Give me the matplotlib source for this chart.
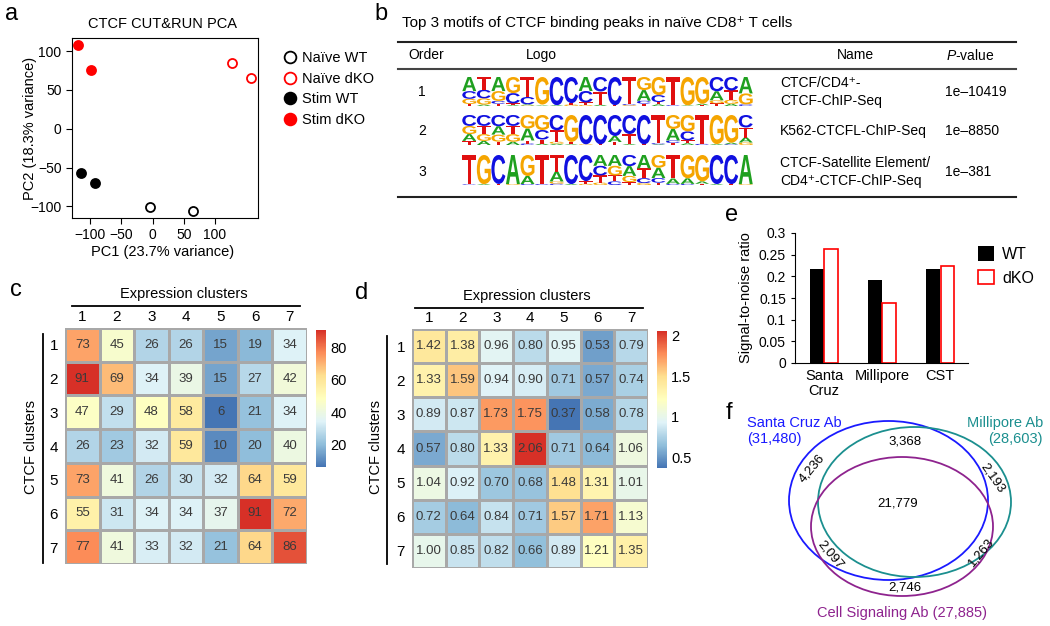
import matplotlib
matplotlib.use("Agg")
import matplotlib.pyplot as plt
import numpy as np
from matplotlib.colors import LinearSegmentedColormap
from matplotlib.patches import Ellipse, PathPatch, Patch
from matplotlib.lines import Line2D
from matplotlib.textpath import TextPath
from matplotlib.font_manager import FontProperties
from matplotlib.transforms import Affine2D

plt.rcParams['font.family'] = ['Liberation Sans', 'DejaVu Sans']
plt.rcParams['mathtext.fontset'] = 'custom'
plt.rcParams['mathtext.it'] = 'Liberation Sans:italic'
plt.rcParams['mathtext.rm'] = 'Liberation Sans'

# ---- data ----
# panel a: PCA
pca_groups = ["Naïve WT", "Naïve dKO", "Stim WT", "Stim dKO"]
pca_x = [[-3.5, 65], [128, 157], [-115, -92.5], [-120, -99]]
pca_y = [[-100.5, -106], [85, 66], [-56.5, -69.5], [108, 76]]
pca_color = ["black", "red", "black", "red"]
pca_filled = [False, False, True, True]

# panel b: motifs (relative base frequency per position)
motif1 = [
    {'A': 0.55, 'C': 0.30, 'G': 0.20, 'T': 0.08},
    {'T': 0.45, 'C': 0.30, 'G': 0.22, 'A': 0.05},
    {'A': 0.50, 'G': 0.35, 'C': 0.10, 'T': 0.08},
    {'G': 0.55, 'C': 0.35, 'T': 0.06, 'A': 0.03},
    {'T': 0.95, 'C': 0.35, 'A': 0.05, 'G': 0.03},
    {'G': 1.75, 'T': 0.05, 'A': 0.04},
    {'C': 1.75, 'A': 0.05},
    {'C': 1.45, 'G': 0.08, 'T': 0.08},
    {'A': 0.55, 'C': 0.45, 'T': 0.10, 'G': 0.04},
    {'C': 0.60, 'T': 0.55, 'A': 0.05},
    {'C': 1.70, 'T': 0.05},
    {'T': 1.60, 'C': 0.06, 'G': 0.05},
    {'G': 0.55, 'A': 0.45, 'C': 0.12, 'T': 0.10},
    {'G': 0.65, 'C': 0.25, 'T': 0.08, 'A': 0.06},
    {'T': 1.70, 'C': 0.05},
    {'G': 1.75, 'A': 0.04},
    {'G': 1.55, 'A': 0.08, 'T': 0.05},
    {'C': 0.55, 'A': 0.35, 'G': 0.12, 'T': 0.10},
    {'C': 0.50, 'T': 0.35, 'G': 0.15, 'A': 0.08},
    {'A': 0.60, 'G': 0.40, 'C': 0.06},
]
motif2 = [
    {'C': 0.40, 'G': 0.30, 'A': 0.25, 'T': 0.15},
    {'C': 0.40, 'T': 0.30, 'G': 0.25, 'A': 0.15},
    {'C': 0.40, 'A': 0.30, 'G': 0.25, 'T': 0.12},
    {'C': 0.40, 'T': 0.30, 'G': 0.28, 'A': 0.12},
    {'G': 0.45, 'A': 0.40, 'T': 0.10, 'C': 0.05},
    {'G': 0.55, 'C': 0.35, 'T': 0.15, 'A': 0.05},
    {'C': 0.60, 'T': 0.45, 'G': 0.08, 'A': 0.05},
    {'G': 1.40, 'T': 0.12, 'A': 0.04},
    {'C': 1.65, 'G': 0.04},
    {'C': 1.65, 'T': 0.04},
    {'C': 1.05, 'A': 0.30, 'T': 0.15},
    {'C': 0.95, 'T': 0.50, 'A': 0.05},
    {'C': 1.65, 'T': 0.04},
    {'T': 1.55, 'C': 0.06, 'A': 0.04},
    {'G': 0.55, 'A': 0.45, 'C': 0.10, 'T': 0.08},
    {'G': 0.55, 'C': 0.30, 'T': 0.10, 'A': 0.06},
    {'T': 1.55, 'C': 0.06},
    {'G': 1.60, 'A': 0.05},
    {'G': 1.45, 'A': 0.08, 'C': 0.04},
    {'C': 0.50, 'T': 0.40, 'A': 0.20, 'G': 0.10},
]
motif3 = [
    {'T': 1.75, 'C': 0.04},
    {'G': 1.65, 'A': 0.05},
    {'C': 1.60, 'T': 0.06},
    {'A': 1.55, 'G': 0.05},
    {'G': 1.05, 'A': 0.40, 'C': 0.05},
    {'T': 1.60, 'C': 0.05},
    {'T': 0.75, 'A': 0.45, 'G': 0.10, 'C': 0.06},
    {'C': 1.55, 'A': 0.05},
    {'C': 1.40, 'T': 0.15, 'G': 0.06},
    {'A': 0.45, 'C': 0.40, 'T': 0.30, 'G': 0.10},
    {'A': 0.45, 'G': 0.40, 'T': 0.25, 'C': 0.15},
    {'C': 0.45, 'A': 0.40, 'G': 0.25, 'T': 0.12},
    {'A': 0.55, 'T': 0.40, 'C': 0.20, 'G': 0.08},
    {'G': 0.55, 'A': 0.45, 'C': 0.20, 'T': 0.10},
    {'T': 1.30, 'A': 0.30, 'C': 0.06},
    {'G': 1.25, 'A': 0.30, 'C': 0.06},
    {'G': 1.30, 'A': 0.12, 'T': 0.06},
    {'C': 1.55, 'A': 0.05},
    {'C': 1.55, 'T': 0.05},
    {'A': 1.65, 'G': 0.05},
]
motifs = [motif1, motif2, motif3]
motif_order = ["1", "2", "3"]
motif_names = ["CTCF/CD4⁺-\nCTCF-ChIP-Seq", "K562-CTCFL-ChIP-Seq",
               "CTCF-Satellite Element/\nCD4⁺-CTCF-ChIP-Seq"]
motif_pvals = ["1e–10419", "1e–8850", "1e–381"]
base_colors = {'A': '#1fa01f', 'C': '#1010e0', 'G': '#f5a500', 'T': '#e01010'}

# panels c and d: heatmaps
clusters = ["1", "2", "3", "4", "5", "6", "7"]
c_vals = np.array([
    [73, 45, 26, 26, 15, 19, 34],
    [91, 69, 34, 39, 15, 27, 42],
    [47, 29, 48, 58, 6, 21, 34],
    [26, 23, 32, 59, 10, 20, 40],
    [73, 41, 26, 30, 32, 64, 59],
    [55, 31, 34, 34, 37, 91, 72],
    [77, 41, 33, 32, 21, 64, 86]])
d_vals = np.array([
    [1.42, 1.38, 0.96, 0.80, 0.95, 0.53, 0.79],
    [1.33, 1.59, 0.94, 0.90, 0.71, 0.57, 0.74],
    [0.89, 0.87, 1.73, 1.75, 0.37, 0.58, 0.78],
    [0.57, 0.80, 1.33, 2.06, 0.71, 0.64, 1.06],
    [1.04, 0.92, 0.70, 0.68, 1.48, 1.31, 1.01],
    [0.72, 0.64, 0.84, 0.71, 1.57, 1.71, 1.13],
    [1.00, 0.85, 0.82, 0.66, 0.89, 1.21, 1.35]])

# panel e: signal-to-noise
antibodies = ["Santa\nCruz", "Millipore", "CST"]
snr_wt = [0.218, 0.192, 0.218]
snr_dko = [0.262, 0.138, 0.223]

# panel f: venn
venn_sets = ["Santa Cruz Ab\n(31,480)", "Millipore Ab\n(28,603)", "Cell Signaling Ab (27,885)"]
venn_counts = ["3,368", "4,236", "2,193", "21,779", "2,097", "1,263", "2,746"]

W, H = 1050, 626
fig = plt.figure(figsize=(W / 100, H / 100), dpi=100)


def add_ax(x0, y0, x1, y1):
    return fig.add_axes([x0 / W, 1 - y1 / H, (x1 - x0) / W, (y1 - y0) / H])


def ftext(x, y, s, **kw):
    return fig.text(x / W, 1 - y / H, s, **kw)


def fline(x0, y0, x1, y1, **kw):
    fig.add_artist(Line2D([x0 / W, x1 / W], [1 - y0 / H, 1 - y1 / H], **kw))


# ---- panel a ----
ax = add_ax(72, 38, 258, 218)
for g, xs, ys, col, filled in zip(pca_groups, pca_x, pca_y, pca_color, pca_filled):
    ax.plot(xs, ys, 'o', ms=6.5, mec=col, mfc=col if filled else 'white',
            mew=1.3, label=g, ls='none')
ax.set_xlim(-129, 169)
ax.set_ylim(-115, 117)
ax.set_xticks([-100, -50, 0, 50, 100])
ax.set_yticks([-100, -50, 0, 50, 100])
ax.tick_params(labelsize=10, length=4, width=0.8)
for s in ax.spines.values():
    s.set_linewidth(0.8)
leg = ax.legend(loc='upper left', bbox_to_anchor=(268 / W, 1 - 38 / H),
                bbox_transform=fig.transFigure, frameon=False, fontsize=10.5,
                handletextpad=0.2, labelspacing=0.45, handlelength=1.2, markerscale=1.3)
ftext(163, 24, "CTCF CUT&RUN PCA", ha='center', va='center', fontsize=10.5)
ftext(163, 252, "PC1 (23.7% variance)", ha='center', va='center', fontsize=10.5)
ftext(30, 128, "PC2 (18.3% variance)", ha='center', va='center', fontsize=10.5, rotation=90)
ftext(12, 14, "a", ha='center', va='center', fontsize=17)

# ---- panel b ----
ftext(381, 14, "b", ha='center', va='center', fontsize=17)
ftext(402, 23, "Top 3 motifs of CTCF binding peaks in naïve CD8⁺ T cells",
      ha='left', va='center', fontsize=11)
fline(398, 42, 1016, 42, color='#222222', lw=1.5)
fline(398, 69, 1016, 69, color='#444444', lw=1.5)
fline(398, 197, 1016, 197, color='#222222', lw=1.5)
ftext(426, 55, "Order", ha='center', va='center', fontsize=10)
ftext(541, 55, "Logo", ha='center', va='center', fontsize=10)
ftext(855, 55, "Name", ha='center', va='center', fontsize=10)
ftext(970, 55, "$P$-value", ha='center', va='center', fontsize=10)

fp = FontProperties(family='Liberation Sans', weight='bold')
row_y = [92, 131, 172]
logo_box = [(77, 106), (115, 145), (155, 185)]


def draw_logo(axl, motif):
    for i, stack in enumerate(motif):
        total = sum(stack.values())
        y = 0.0
        for letter, h in sorted(stack.items(), key=lambda kv: kv[1]):
            h = h / total
            tp = TextPath((0, 0), letter, size=1, prop=fp)
            bb = tp.get_extents()
            tr = Affine2D().translate(-bb.x0, -bb.y0).scale(0.96 / bb.width, h / bb.height).translate(i + 0.02, y)
            axl.add_patch(PathPatch(tr.transform_path(tp), fc=base_colors[letter], ec='none'))
            y += h
    axl.set_xlim(0, len(motif))
    axl.set_ylim(0, 1)
    axl.axis('off')


for m, (y0, y1), yc, o, nm, pv in zip(motifs, logo_box, row_y, motif_order, motif_names, motif_pvals):
    axl = add_ax(462, y0, 753, y1)
    draw_logo(axl, m)
    ftext(422, yc, o, ha='center', va='center', fontsize=10)
    ftext(780, yc, nm, ha='left', va='center', fontsize=10, linespacing=1.35)
    ftext(945, yc, pv, ha='left', va='center', fontsize=10)

# ---- panels c, d: heatmaps ----
cmap = LinearSegmentedColormap.from_list(
    'rdylbu', ['#4575B4', '#91BFDB', '#E0F3F8', '#FFFFBF', '#FEE090', '#FC8D59', '#D73027'])


def heatmap(box, cbox, vals, fmt, cticks, clabels, xline, yline, title_x, ylab_x, letter, letter_xy):
    axh = add_ax(*box)
    mesh = axh.pcolormesh(vals, cmap=cmap, vmin=vals.min(), vmax=vals.max(),
                          edgecolors='#a8a8a8', linewidth=0.8)
    axh.set_xlim(0, 7)
    axh.set_ylim(7, 0)
    for i in range(7):
        for j in range(7):
            axh.text(j + 0.5, i + 0.5, fmt(vals[i, j]), ha='center', va='center',
                     fontsize=9.5, color='#3a3a3a')
    axh.set_xticks(np.arange(7) + 0.5)
    axh.set_xticklabels(clusters)
    axh.set_yticks(np.arange(7) + 0.5)
    axh.set_yticklabels(clusters)
    axh.xaxis.tick_top()
    axh.tick_params(length=0, labelsize=11)
    axh.tick_params(axis='x', pad=3)
    axh.tick_params(axis='y', pad=5)
    for s in axh.spines.values():
        s.set_visible(False)
    cax = add_ax(*cbox)
    cb = fig.colorbar(mesh, cax=cax)
    cb.set_ticks(cticks)
    cb.set_ticklabels(clabels)
    cb.outline.set_visible(False)
    cax.tick_params(length=0, labelsize=10.5, pad=3)
    fline(xline[0], xline[2], xline[1], xline[2], color='black', lw=1.3)
    ftext(title_x, xline[2] - 12, "Expression clusters", ha='center', va='center', fontsize=10.5)
    fline(yline[0], yline[1], yline[0], yline[2], color='black', lw=1.3)
    ftext(ylab_x, 447, "CTCF clusters", ha='center', va='center', fontsize=10.5, rotation=90)
    ftext(letter_xy[0], letter_xy[1], letter, ha='center', va='center', fontsize=17)


heatmap((65, 328, 307, 564), (316, 330, 326, 467), c_vals, lambda v: "%d" % v,
        [20, 40, 60, 80], ["20", "40", "60", "80"], (72, 300, 306), (43, 334, 563), 184, 31, "c", (16, 290))
heatmap((412, 329, 648, 568), (657, 331, 667, 468), d_vals, lambda v: "%.2f" % v,
        [0.5, 1, 1.5, 2], ["0.5", "1", "1.5", "2"], (415, 643, 308), (387, 336, 564), 527, 376, "d", (362, 293))

# ---- panel e ----
axe = add_ax(795, 233, 968, 363)
xb = np.arange(len(antibodies))
axe.bar(xb - 0.122, snr_wt, 0.23, color='black', label='WT')
axe.bar(xb + 0.122, snr_dko, 0.23, facecolor='white', edgecolor='red', lw=1.2, label='dKO')
axe.set_xlim(-0.5, 2.48)
axe.set_ylim(0, 0.3)
axe.set_yticks([0, 0.05, 0.1, 0.15, 0.2, 0.25, 0.3])
axe.set_yticklabels(["0", "0.05", "0.1", "0.15", "0.2", "0.25", "0.3"])
axe.set_xticks(xb)
axe.set_xticklabels(antibodies, fontsize=10.5, linespacing=1.1)
axe.tick_params(axis='x', length=0, pad=4)
axe.tick_params(axis='y', labelsize=10, length=3, width=0.8)
axe.spines['top'].set_visible(False)
axe.spines['right'].set_visible(False)
axe.spines['left'].set_linewidth(0.8)
axe.spines['bottom'].set_linewidth(0.8)
axe.set_ylabel("Signal-to-noise ratio", fontsize=10.5, labelpad=4)
axe.legend(handles=[Patch(facecolor='black', label='WT'),
                    Patch(facecolor='white', edgecolor='red', lw=1.2, label='dKO')],
           loc='upper left', bbox_to_anchor=(964 / W, 1 - 232 / H), bbox_transform=fig.transFigure,
           frameon=False, fontsize=11.5, handlelength=1.0, handleheight=1.0,
           handletextpad=0.5, labelspacing=0.5)
ftext(732, 215, "e", ha='center', va='center', fontsize=17)

# ---- panel f ----
axf = add_ax(740, 405, 1050, 626)
axf.set_xlim(740, 1050)
axf.set_ylim(626, 405)
axf.axis('off')
venn_colors = ['#1a1aff', '#1b8f8f', '#8e238e']
venn_geom = [((888.5, 500.5), 199, 159), ((914.5, 502), 193, 150), ((902, 526.5), 182, 139)]
for (c, w, h), col in zip(venn_geom, venn_colors):
    axf.add_patch(Ellipse(c, w, h, fill=False, ec=col, lw=1.3))
axf.text(747, 431, venn_sets[0], ha='left', va='center', color=venn_colors[0], fontsize=10.5, linespacing=1.2)
axf.text(1043, 431, venn_sets[1], ha='right', va='center', color=venn_colors[1], fontsize=10.5,
         linespacing=1.2, multialignment='right')
axf.text(902, 613, venn_sets[2], ha='center', va='center', color=venn_colors[2], fontsize=10.5)
count_pos = [(905, 441, 0), (812, 468, 50), (993, 478, -55), (898, 504, 0),
             (830, 555, -50), (981, 552, 50), (905, 588, 0)]
for s, (x, y, r) in zip(venn_counts, count_pos):
    axf.text(x, y, s, ha='center', va='center', fontsize=9.5, rotation=r)
ftext(729, 413, "f", ha='center', va='center', fontsize=17)

fig.savefig("out.png", dpi=100)
